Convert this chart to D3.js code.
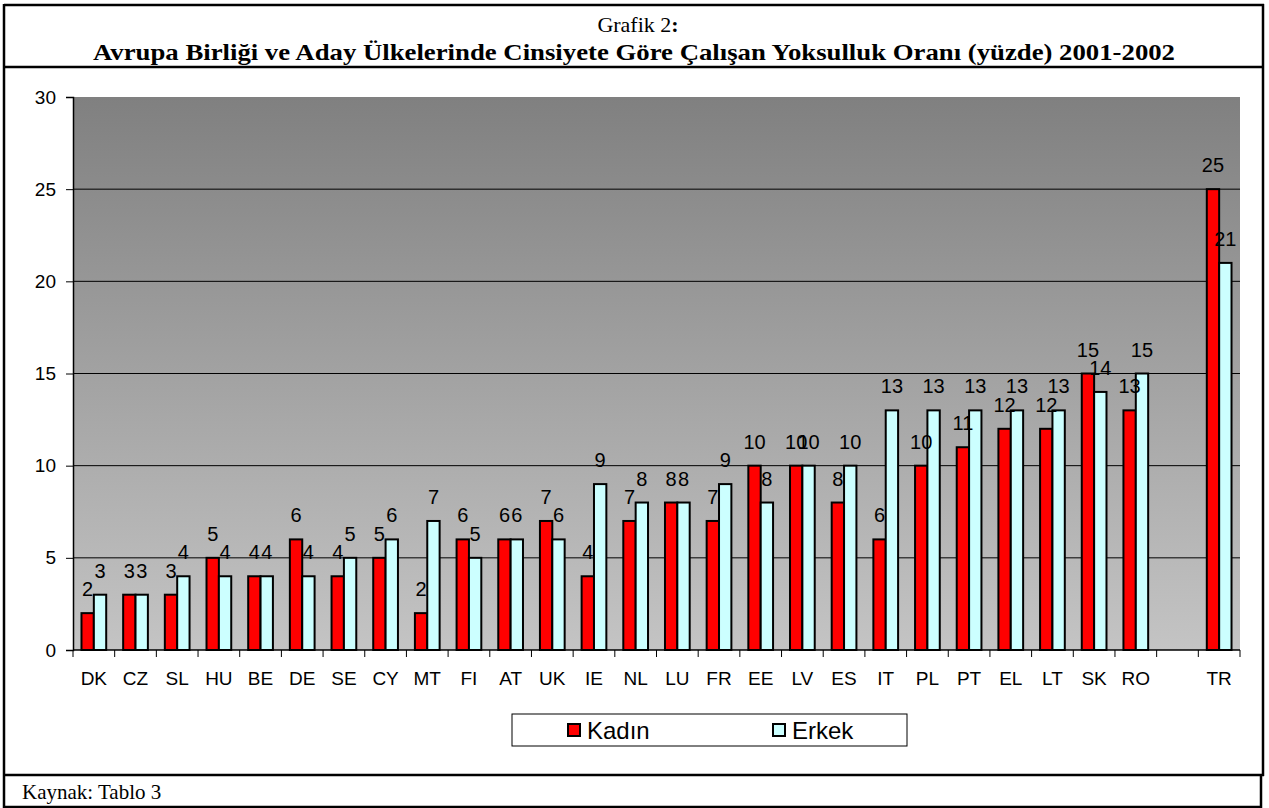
<!DOCTYPE html>
<html>
<head>
<meta charset="utf-8">
<script src="https://cdn.jsdelivr.net/npm/d3@7"></script>
<style>
  html, body { margin: 0; padding: 0; background: #ffffff; }
  svg { display: block; }
</style>
</head>
<body>
<svg id="chart" width="1269" height="808"></svg>
<script>
// ---- data ----
const categories = ["DK","CZ","SL","HU","BE","DE","SE","CY","MT","FI","AT","UK","IE","NL","LU","FR","EE","LV","ES","IT","PL","PT","EL","LT","SK","RO","","TR"];
const kadin = [2,3,3,5,4,6,4,5,2,6,6,7,4,7,8,7,10,10,8,6,10,11,12,12,15,13,null,25];
const erkek = [3,3,4,4,4,4,5,6,7,5,6,6,9,8,8,9,8,10,10,13,13,13,13,13,14,15,null,21];
const seriesNames = ["Kadın","Erkek"];
const yTicks = [0,5,10,15,20,25,30];
const titleLine1 = "Grafik 2";
const titleLine2 = "Avrupa Birliği ve Aday Ülkelerinde Cinsiyete Göre Çalışan Yoksulluk Oranı (yüzde) 2001-2002";
const sourceText = "Kaynak: Tablo 3";

// ---- layout ----
const svg = d3.select("#chart");
const colors = ["#ff0000", "#ccffff"];
const plot = {left: 73, right: 1240, top: 97, bottom: 650};
const sans = "'Liberation Sans', Arial, sans-serif";
const serif = "'Liberation Serif', 'Times New Roman', serif";

// outer frame
const frame = svg.append("g").attr("stroke", "#000").attr("stroke-width", 2.5).attr("fill", "none");
frame.append("line").attr("x1", 4).attr("x2", 1264).attr("y1", 5).attr("y2", 5);
frame.append("line").attr("x1", 4).attr("x2", 4).attr("y1", 4).attr("y2", 808);
frame.append("line").attr("x1", 1263).attr("x2", 1263).attr("y1", 4).attr("y2", 776);
frame.append("line").attr("x1", 4).attr("x2", 1264).attr("y1", 67).attr("y2", 67);
frame.append("line").attr("x1", 4).attr("x2", 1264).attr("y1", 775).attr("y2", 775);
frame.append("line").attr("x1", 1261).attr("x2", 1261).attr("y1", 775).attr("y2", 808);
frame.append("line").attr("x1", 4).attr("x2", 1262).attr("y1", 807).attr("y2", 807);

// titles
const t1 = svg.append("text").attr("x", 638).attr("y", 32).attr("text-anchor", "middle")
  .attr("font-family", serif).attr("font-size", 22).attr("fill", "#000");
t1.append("tspan").text(titleLine1);
t1.append("tspan").attr("font-weight", "bold").text(":");
svg.append("text").attr("x", 634).attr("y", 60).attr("text-anchor", "middle")
  .attr("font-family", serif).attr("font-size", 24).attr("font-weight", "bold").attr("fill", "#000")
  .attr("textLength", 1082).attr("lengthAdjust", "spacingAndGlyphs")
  .text(titleLine2);

svg.append("text").attr("x", 22).attr("y", 799)
  .attr("font-family", serif).attr("font-size", 21).attr("fill", "#000").text(sourceText);

// scales
const idx = categories.map((d, i) => i);
const x = d3.scaleBand().domain(idx).range([plot.left, plot.right]).paddingInner(0.407).paddingOuter(0.2035);
const xSlot = d3.scaleBand().domain(idx).range([plot.left, plot.right]).padding(0);
const xs = d3.scaleBand().domain([0, 1]).range([0, x.bandwidth()]);
const y = d3.scaleLinear().domain([0, 30]).range([plot.bottom, plot.top]);

// background gradient
const defs = svg.append("defs");
const grad = defs.append("linearGradient").attr("id", "bg").attr("x1", 0).attr("x2", 0).attr("y1", 0).attr("y2", 1);
grad.append("stop").attr("offset", "0%").attr("stop-color", "#808080");
grad.append("stop").attr("offset", "100%").attr("stop-color", "#c4c4c4");
svg.append("rect").attr("x", plot.left).attr("y", plot.top)
  .attr("width", plot.right - plot.left).attr("height", plot.bottom - plot.top)
  .attr("fill", "url(#bg)");

// gridlines
svg.append("g").selectAll("line").data(yTicks.filter(v => v > 0 && v < 30)).join("line")
  .attr("x1", plot.left).attr("x2", plot.right)
  .attr("y1", d => y(d)).attr("y2", d => y(d))
  .attr("stroke", "#000").attr("stroke-width", 1);

// bars
const seriesData = [kadin, erkek];
const barG = svg.append("g");
seriesData.forEach((vals, s) => {
  barG.append("g").selectAll("rect").data(vals.map((v, i) => ({i, v})).filter(d => d.v != null)).join("rect")
    .attr("x", d => x(d.i) + xs(s))
    .attr("y", d => y(d.v))
    .attr("width", xs.bandwidth())
    .attr("height", d => y(0) - y(d.v))
    .attr("fill", colors[s]).attr("stroke", "#000").attr("stroke-width", 2);
});

// y axis
const yAxis = svg.append("g").attr("transform", `translate(${plot.left},0)`)
  .call(d3.axisLeft(y).tickValues(yTicks).tickSize(7).tickPadding(10));
yAxis.select(".domain").attr("stroke", "#000").attr("stroke-width", 1.5);
yAxis.selectAll("text").attr("font-family", sans).attr("font-size", 19).attr("fill", "#000");
yAxis.selectAll(".tick line").attr("stroke", "#000");

// x axis
const xAxisG = svg.append("g").attr("transform", `translate(0,${plot.bottom})`);
xAxisG.append("line").attr("x1", plot.left).attr("x2", plot.right).attr("stroke", "#000").attr("stroke-width", 1.5);
const boundaries = idx.map(i => xSlot(i)).concat([plot.right]);
xAxisG.selectAll(".xt").data(boundaries).join("line").attr("class", "xt")
  .attr("x1", d => d).attr("x2", d => d).attr("y1", 0).attr("y2", 7)
  .attr("stroke", "#000").attr("stroke-width", 1);
xAxisG.selectAll(".xl").data(idx).join("text").attr("class", "xl")
  .attr("x", i => xSlot(i) + xSlot.bandwidth() / 2).attr("y", 35)
  .attr("text-anchor", "middle").attr("font-family", sans).attr("font-size", 19).attr("fill", "#000")
  .text(i => categories[i]);

// value labels
seriesData.forEach((vals, s) => {
  svg.append("g").selectAll("text").data(vals.map((v, i) => ({i, v})).filter(d => d.v != null)).join("text")
    .attr("x", d => x(d.i) + xs(s) + xs.bandwidth() / 2)
    .attr("y", d => y(d.v) - 17)
    .attr("text-anchor", "middle").attr("font-family", sans).attr("font-size", 20).attr("fill", "#000")
    .text(d => d.v);
});

// legend
const lg = svg.append("g");
lg.append("rect").attr("x", 512).attr("y", 714).attr("width", 395).attr("height", 32)
  .attr("fill", "#fff").attr("stroke", "#000").attr("stroke-width", 1);
const legendX = [568, 773];
seriesNames.forEach((name, s) => {
  lg.append("rect").attr("x", legendX[s]).attr("y", 724).attr("width", 12).attr("height", 12)
    .attr("fill", colors[s]).attr("stroke", "#000").attr("stroke-width", 2);
  lg.append("text").attr("x", legendX[s] + 19).attr("y", 739)
    .attr("font-family", sans).attr("font-size", 24).attr("fill", "#000").text(name);
});
</script>
</body>
</html>
